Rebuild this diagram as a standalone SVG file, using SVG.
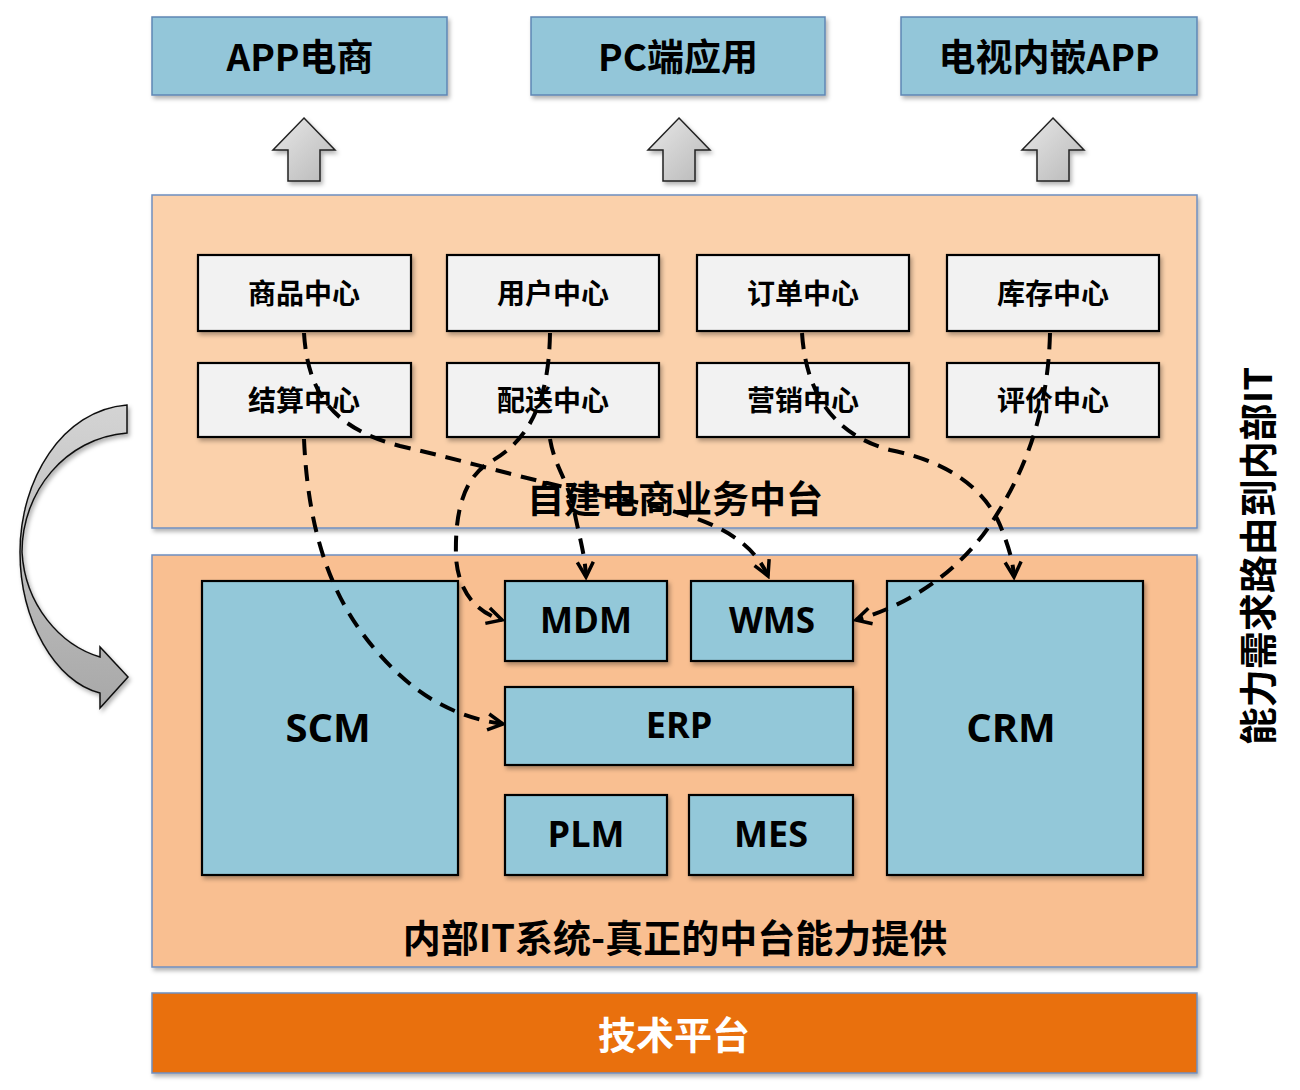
<svg xmlns="http://www.w3.org/2000/svg" width="1300" height="1090" viewBox="0 0 1300 1090">
<defs>
<style>
.cn{font-family:"Noto Sans CJK SC","Noto Sans",sans-serif;font-weight:bold;text-anchor:middle;dominant-baseline:central;fill:#000}
.lat{font-family:"Open Sans","Liberation Sans",sans-serif;font-weight:bold;text-anchor:middle;dominant-baseline:central;fill:#000}
.app{fill:#93c6d9;stroke:#5f86b4;stroke-width:1.5}
.panel{stroke:#6f8fc0;stroke-width:1.5}
.ctr{fill:#f2f2f2;stroke:#000;stroke-width:2.2}
.sys{fill:#93c8d9;stroke:#000;stroke-width:2.2}
.conn{fill:none;stroke:#000;stroke-width:4;stroke-dasharray:16 10;marker-end:url(#ah)}
.blk{fill:url(#gg);stroke:#222;stroke-width:1.5;stroke-linejoin:miter}
</style>
<filter id="sh" x="-5%" y="-5%" width="115%" height="120%"><feDropShadow dx="2" dy="3" stdDeviation="2" flood-color="#000" flood-opacity="0.3"/></filter>
<linearGradient id="gg" x1="0" y1="0" x2="1" y2="1"><stop offset="0" stop-color="#e8e8e8"/><stop offset="1" stop-color="#b8b8b8"/></linearGradient>
<linearGradient id="cg" x1="0" y1="0" x2="0" y2="1"><stop offset="0" stop-color="#d4d4d4"/><stop offset="1" stop-color="#a8a8a8"/></linearGradient>
<marker id="ah" viewBox="0 0 20 20" refX="17" refY="10" markerWidth="20" markerHeight="20" markerUnits="userSpaceOnUse" orient="auto"><path d="M2,2 L17,10 L2,18" fill="none" stroke="#000" stroke-width="3.5"/></marker>
</defs>
<rect width="1300" height="1090" fill="#ffffff"/>

<g id="app-ecommerce"><rect class="app" x="152" y="17" width="295" height="78" filter="url(#sh)"/><text class="cn" x="300" y="55" font-size="37">APP电商</text></g>
<g id="pc-app"><rect class="app" x="531" y="17" width="294" height="78" filter="url(#sh)"/><text class="cn" x="678" y="55" font-size="37">PC端应用</text></g>
<g id="tv-app"><rect class="app" x="901" y="17" width="296" height="78" filter="url(#sh)"/><text class="cn" x="1049" y="55" font-size="37">电视内嵌APP</text></g>

<g id="up-arrow-1"><path class="blk" d="M304,118 L335,150 L320,150 L320,181 L288,181 L288,150 L273,150 Z" filter="url(#sh)"/></g>
<g id="up-arrow-2"><path class="blk" d="M679,118 L710,150 L695,150 L695,181 L663,181 L663,150 L648,150 Z" filter="url(#sh)"/></g>
<g id="up-arrow-3"><path class="blk" d="M1053,118 L1084,150 L1069,150 L1069,181 L1037,181 L1037,150 L1022,150 Z" filter="url(#sh)"/></g>

<g id="business-platform"><rect class="panel" x="152" y="195" width="1045" height="333" fill="#fbd1ab" filter="url(#sh)"/><text class="cn" x="675" y="497" font-size="37">自建电商业务中台</text></g>
<g id="goods-center"><rect class="ctr" x="198" y="255" width="213" height="76" filter="url(#sh)"/><text class="cn" x="304" y="292" font-size="28">商品中心</text></g>
<g id="user-center"><rect class="ctr" x="447" y="255" width="212" height="76" filter="url(#sh)"/><text class="cn" x="553" y="292" font-size="28">用户中心</text></g>
<g id="order-center"><rect class="ctr" x="697" y="255" width="212" height="76" filter="url(#sh)"/><text class="cn" x="803" y="292" font-size="28">订单中心</text></g>
<g id="stock-center"><rect class="ctr" x="947" y="255" width="212" height="76" filter="url(#sh)"/><text class="cn" x="1053" y="292" font-size="28">库存中心</text></g>
<g id="settle-center"><rect class="ctr" x="198" y="363" width="213" height="74" filter="url(#sh)"/><text class="cn" x="304" y="399" font-size="28">结算中心</text></g>
<g id="delivery-center"><rect class="ctr" x="447" y="363" width="212" height="74" filter="url(#sh)"/><text class="cn" x="553" y="399" font-size="28">配送中心</text></g>
<g id="marketing-center"><rect class="ctr" x="697" y="363" width="212" height="74" filter="url(#sh)"/><text class="cn" x="803" y="399" font-size="28">营销中心</text></g>
<g id="review-center"><rect class="ctr" x="947" y="363" width="212" height="74" filter="url(#sh)"/><text class="cn" x="1053" y="399" font-size="28">评价中心</text></g>

<g id="internal-it"><rect class="panel" x="152" y="555" width="1045" height="412" fill="#f9bf91" filter="url(#sh)"/><text class="cn" x="675" y="935" font-size="38">内部IT系统-真正的中台能力提供</text></g>
<g id="scm"><rect class="sys" x="202" y="581" width="256" height="294" filter="url(#sh)"/><text class="lat" x="328" y="726" font-size="40">SCM</text></g>
<g id="mdm"><rect class="sys" x="505" y="581" width="162" height="80" filter="url(#sh)"/><text class="lat" x="586" y="619" font-size="35">MDM</text></g>
<g id="wms"><rect class="sys" x="691" y="581" width="162" height="80" filter="url(#sh)"/><text class="lat" x="772" y="619" font-size="35">WMS</text></g>
<g id="erp"><rect class="sys" x="505" y="687" width="348" height="78" filter="url(#sh)"/><text class="lat" x="679" y="724" font-size="36">ERP</text></g>
<g id="plm"><rect class="sys" x="505" y="795" width="162" height="80" filter="url(#sh)"/><text class="lat" x="586" y="833" font-size="36">PLM</text></g>
<g id="mes"><rect class="sys" x="689" y="795" width="164" height="80" filter="url(#sh)"/><text class="lat" x="771" y="833" font-size="36">MES</text></g>
<g id="crm"><rect class="sys" x="887" y="581" width="256" height="294" filter="url(#sh)"/><text class="lat" x="1011" y="726" font-size="40">CRM</text></g>

<g id="tech-platform"><rect x="152" y="993" width="1045" height="80" fill="#e9700f" stroke="#6f8fc0" stroke-width="1.5" filter="url(#sh)"/><text class="cn" x="674" y="1032" font-size="38" style="fill:#fff">技术平台</text></g>

<g id="curved-arrow"><path d="M127,405 C 62,410 20,480 20,552 C 20,620 55,682 100,693 L100,708 L128,677 L100,647 L100,657 C 60,645 25,605 22,552 C 22,492 65,438 127,433 Z" fill="url(#cg)" stroke="#111" stroke-width="1.5" filter="url(#sh)"/></g>

<g id="side-label"><text class="cn" transform="translate(1255,556) rotate(-90)" font-size="38">能力需求路由到内部IT</text></g>

<g id="connectors">
<path class="conn" d="M304,333 C 308,400 340,430 400,446 C 470,462 520,478 600,495 C 680,510 745,525 768,576"/>
<path class="conn" d="M550,333 C 549,400 530,440 490,462 C 460,480 455,520 456,557 C 458,590 475,612 502,620"/>
<path class="conn" d="M550,439 C 555,468 568,480 574,510 C 580,540 585,555 586,577"/>
<path class="conn" d="M802,333 C 806,395 835,435 890,450 C 950,462 985,490 1000,525 C 1008,545 1013,560 1014,577"/>
<path class="conn" d="M1050,333 C 1048,420 1020,480 990,525 C 960,570 910,605 856,620"/>
<path class="conn" d="M304,439 C 308,530 330,600 380,655 C 420,700 460,718 503,724"/>
</g>
</svg>
